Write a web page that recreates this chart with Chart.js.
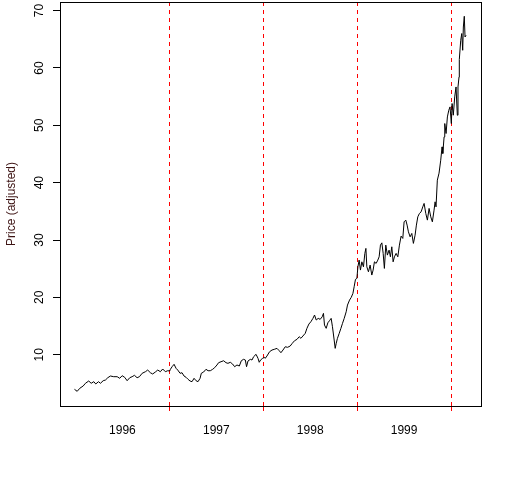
<!DOCTYPE html>
<html>
<head>
<meta charset="utf-8">
<script src="https://cdn.jsdelivr.net/npm/chart.js@4/dist/chart.umd.min.js"></script>
<style>
  html, body { margin: 0; padding: 0; background: #fff; }
  #priceChart { display: block; }
</style>
</head>
<body>
<canvas id="priceChart" width="512" height="480"></canvas>
<script>
// decimal year of each reading, and the adjusted price
const years = [
  1995.989, 1996.018, 1996.046, 1996.082, 1996.106, 1996.141, 1996.167, 1996.195, 1996.216, 1996.245,
  1996.266, 1996.295, 1996.319, 1996.344, 1996.372, 1996.407, 1996.444, 1996.471, 1996.497, 1996.524,
  1996.550, 1996.578, 1996.603, 1996.628, 1996.656, 1996.681, 1996.710, 1996.745, 1996.769, 1996.798,
  1996.822, 1996.851, 1996.876, 1996.904, 1996.929, 1996.957, 1996.982, 1997.003,
  1997.011, 1997.029, 1997.050, 1997.071, 1997.089, 1997.114, 1997.135, 1997.156, 1997.178, 1997.199,
  1997.220, 1997.241, 1997.263, 1997.284, 1997.305, 1997.327, 1997.340, 1997.365, 1997.390, 1997.412,
  1997.436, 1997.461, 1997.482, 1997.507, 1997.524, 1997.550, 1997.578, 1997.603, 1997.624, 1997.649,
  1997.673, 1997.695, 1997.720, 1997.745, 1997.766, 1997.790, 1997.809, 1997.822, 1997.837, 1997.862,
  1997.880, 1997.897, 1997.923, 1997.944, 1997.957, 1997.971, 1997.993, 1998.014,
  1998.021, 1998.039, 1998.067, 1998.093, 1998.117, 1998.146, 1998.170, 1998.188, 1998.210, 1998.234,
  1998.259, 1998.287, 1998.309, 1998.333, 1998.359, 1998.383, 1998.401, 1998.422, 1998.447, 1998.465,
  1998.486, 1998.507, 1998.529, 1998.546, 1998.564, 1998.585, 1998.606, 1998.628, 1998.641, 1998.652,
  1998.670, 1998.688, 1998.705, 1998.723, 1998.737, 1998.755, 1998.766, 1998.777, 1998.790, 1998.809,
  1998.827, 1998.844, 1998.862, 1998.883, 1998.897, 1998.919, 1998.937, 1998.955, 1998.968, 1998.982,
  1998.997, 1999.008, 1999.021, 1999.035, 1999.050, 1999.067, 1999.082, 1999.093, 1999.103, 1999.120,
  1999.138, 1999.156, 1999.170, 1999.184, 1999.202, 1999.220, 1999.234, 1999.248, 1999.263, 1999.277,
  1999.290, 1999.305, 1999.322, 1999.340, 1999.354, 1999.369, 1999.383, 1999.397, 1999.415, 1999.433,
  1999.450, 1999.468, 1999.486, 1999.500, 1999.518, 1999.532, 1999.546, 1999.564, 1999.582, 1999.599,
  1999.617, 1999.631, 1999.646, 1999.663, 1999.681, 1999.699, 1999.713, 1999.731, 1999.748, 1999.766,
  1999.784, 1999.801, 1999.819, 1999.830, 1999.840,
  1999.854, 1999.872, 1999.890, 1999.904, 1999.912, 1999.926, 1999.933, 1999.947, 1999.961, 1999.976,
  1999.989, 2000.003, 2000.011, 2000.024, 2000.039, 2000.053, 2000.067, 2000.074, 2000.085, 2000.088,
  2000.103, 2000.114, 2000.124, 2000.131, 2000.141, 2000.149, 2000.160
];
const prices = [
  3.97, 3.62, 4.15, 4.55, 5.02, 5.42, 5.02, 5.30, 4.90, 5.30,
  5.02, 5.47, 5.59, 5.99, 6.29, 6.17, 6.17, 5.89, 6.34, 6.06,
  5.47, 5.99, 6.17, 6.41, 5.99, 6.17, 6.76, 7.04, 7.33, 6.86,
  6.64, 6.99, 7.33, 7.04, 7.51, 7.04, 7.21, 7.16,
  7.46, 7.91, 8.33, 7.63, 7.33, 6.76, 6.86, 6.29, 6.06, 5.71,
  5.42, 5.30, 5.89, 5.47, 5.30, 5.89, 6.76, 6.99, 7.46, 7.21,
  7.21, 7.46, 7.74, 8.21, 8.61, 8.78, 8.95, 8.61, 8.50, 8.68,
  8.38, 7.91, 8.21, 8.03, 8.95, 9.20, 9.08, 7.91, 8.90, 9.20,
  9.08, 9.65, 10.07, 9.37, 8.68, 9.08, 9.37, 9.55,
  9.37, 9.77, 10.52, 10.82, 10.94, 11.11, 10.70, 10.35, 10.82, 11.39,
  11.29, 11.52, 11.99, 12.44, 12.68, 13.14, 12.86, 13.26, 13.73, 14.60,
  15.35, 15.75, 16.34, 16.92, 16.05, 16.34, 16.17, 16.62, 17.21, 15.17,
  14.60, 15.57, 15.92, 16.34, 14.88, 12.56, 11.11, 11.99, 12.86, 13.73,
  14.60, 15.47, 16.34, 17.49, 18.66, 19.53, 20.00, 20.70, 21.85, 23.14,
  23.31, 25.33, 26.50, 24.76, 26.20, 25.33, 27.67, 28.54, 25.33, 24.46,
  25.63, 23.89, 24.76, 26.20, 25.92, 26.50, 27.07, 29.11, 29.51, 27.67,
  25.05, 29.11, 27.37, 28.24, 27.07, 28.82, 26.20, 27.07, 27.67, 27.07,
  29.11, 30.68, 30.28, 33.17, 33.47, 32.60, 31.43, 30.56, 31.15, 29.41,
  30.85, 32.60, 34.04, 34.63, 34.91, 35.78, 36.38, 34.63, 33.47, 35.51,
  34.04, 33.17, 35.21, 36.66, 35.78,
  40.44, 41.66, 43.92, 46.24, 45.09, 47.98, 50.31, 48.57, 51.46, 52.63,
  53.21, 50.31, 53.80, 51.76, 54.95, 56.69, 51.76, 56.69, 58.43, 61.46,
  64.83, 66.00, 63.08, 67.14, 69.01, 65.40, 65.70
];
const yearBreaks = [1997, 1998, 1999, 2000];
const yearLabels = ['1996', '1997', '1998', '1999'];
const yearLabelPos = [1996.5, 1997.5, 1998.5, 1999.5];
const yTicks = [10, 20, 30, 40, 50, 60, 70];

const font = { family: "'Liberation Sans', Arial, sans-serif", size: 12 };

// R-style box around the plotting region
const boxPlugin = {
  id: 'box',
  afterDraw(chart) {
    const a = chart.chartArea;
    const c = chart.ctx;
    c.save();
    c.strokeStyle = '#000';
    c.lineWidth = 1;
    c.strokeRect(Math.round(a.left) + 0.5, Math.round(a.top) + 0.5,
      Math.round(a.right - a.left), Math.round(a.bottom - a.top));
    c.restore();
  }
};

const ctx = document.getElementById('priceChart').getContext('2d');
const priceChart = new Chart(ctx, {
  type: 'scatter',
  data: {
    datasets: [{
      data: years.map((t, i) => ({ x: t, y: prices[i] })),
      showLine: true,
      borderColor: '#000',
      borderWidth: 1,
      pointRadius: 0,
      tension: 0
    }]
  },
  options: {
    responsive: false,
    devicePixelRatio: 1,
    animation: false,
    layout: { padding: { top: 2, right: 31, bottom: 0, left: 0 } },
    plugins: { legend: { display: false }, tooltip: { enabled: false } },
    scales: {
      x: {
        type: 'linear',
        min: 1995.835,
        max: 2000.319,
        afterFit: s => {
          s.height = 74;
          s.paddingLeft = 0;
          s.paddingRight = 0;
        },
        afterBuildTicks: s => {
          s.ticks = yearBreaks.concat(yearLabelPos).sort().map(v => ({ value: v }));
        },
        grid: {
          color: c => (c.tick && yearBreaks.includes(c.tick.value)) ? '#ff0000' : 'rgba(0,0,0,0)',
          tickLength: 5,
          tickBorderDash: [4, 4]
        },
        border: { display: true, color: '#000', dash: [4, 4] },
        ticks: {
          font: font,
          color: '#000',
          padding: 12,
          maxRotation: 0,
          autoSkip: false,
          callback: v => {
            const i = yearLabelPos.indexOf(v);
            return i >= 0 ? yearLabels[i] : '';
          }
        }
      },
      y: {
        min: 1.06,
        max: 71.5,
        afterFit: s => {
          s.width = 60;
          s.paddingTop = 0;
          s.paddingBottom = 0;
        },
        afterBuildTicks: s => { s.ticks = yTicks.map(v => ({ value: v })); },
        grid: { drawOnChartArea: false, color: '#000', tickLength: 7 },
        border: { display: true, color: '#000' },
        ticks: {
          font: font,
          color: '#000',
          minRotation: 90,
          maxRotation: 90,
          crossAlign: 'center',
          padding: 7
        },
        title: {
          display: true,
          text: 'Price (adjusted)',
          font: font,
          color: '#3d1414',
          padding: { top: 4, bottom: 0 }
        }
      }
    }
  },
  plugins: [boxPlugin]
});
</script>
</body>
</html>
